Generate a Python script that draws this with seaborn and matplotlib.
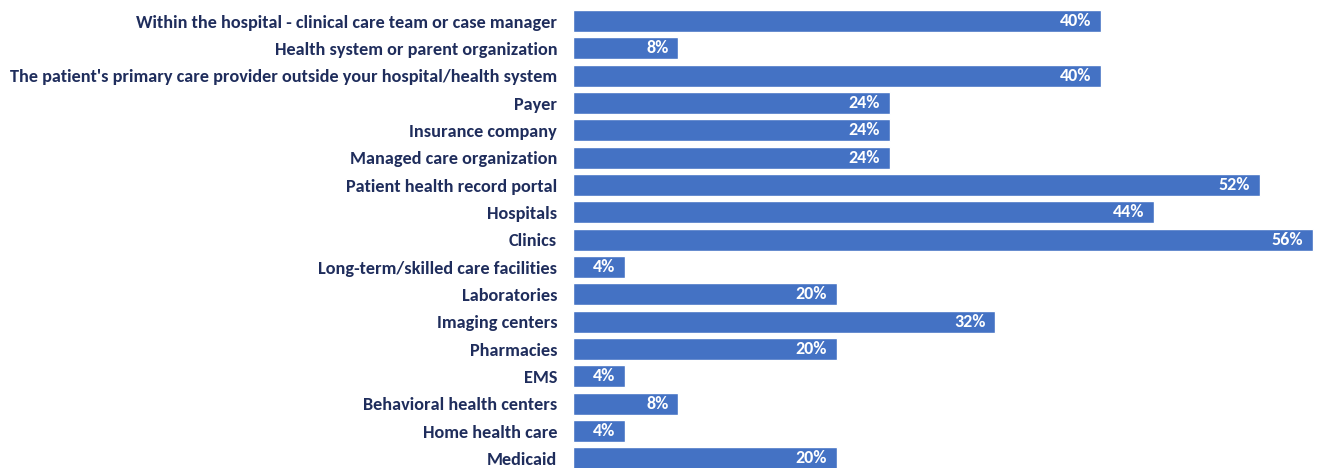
import matplotlib
matplotlib.use("Agg")
import matplotlib.pyplot as plt
from matplotlib import font_manager
import seaborn as sns
import pandas as pd

categories = [
    "Within the hospital - clinical care team or case manager",
    "Health system or parent organization",
    "The patient's primary care provider outside your hospital/health system",
    "Payer",
    "Insurance company",
    "Managed care organization",
    "Patient health record portal",
    "Hospitals",
    "Clinics",
    "Long-term/skilled care facilities",
    "Laboratories",
    "Imaging centers",
    "Pharmacies",
    "EMS",
    "Behavioral health centers",
    "Home health care",
    "Medicaid",
]
values = [40, 8, 40, 24, 24, 24, 52, 44, 56, 4, 20, 32, 20, 4, 8, 4, 20]

df = pd.DataFrame({"category": categories, "value": values})

sns.set_theme(style="white")
installed = {f.name for f in font_manager.fontManager.ttflist}
preferred = ["Carlito", "Liberation Sans Narrow", "Roboto Condensed",
             "Open Sans Condensed", "Noto Sans Condensed", "Roboto", "Lato"]
family = next((f for f in preferred if f in installed), "DejaVu Sans")
plt.rcParams["font.family"] = [family, "DejaVu Sans"]

W, H = 1321, 468
fig = plt.figure(figsize=(W / 100, H / 100), dpi=100)
x0 = 572.5
ax = fig.add_axes([x0 / W, 0, 1 - x0 / W, 1])

bar_color = "#4472C4"
text_color = "#1F2D5C"

sns.barplot(data=df, x="value", y="category", orient="h", color=bar_color,
            saturation=1, width=0.8, ax=ax)

px_per_unit = (1312.5 - x0) / 56
ax.set_xlim(0, (W - x0) / px_per_unit)
ax.set_ylim(16.35, -0.77)

# label size: fit the longest category into the space left of the bars
renderer = fig.canvas.get_renderer()
probe = fig.text(0, 0, max(categories, key=len), fontsize=10, fontweight="bold")
w10 = probe.get_window_extent(renderer).width
probe.remove()
label_size = min(14, 10 * 549 / w10)

for i, v in enumerate(values):
    ax.annotate(f"{v}%", xy=(v, i), xytext=(-7, 0), textcoords="offset points",
                ha="right", va="center", color="white",
                fontsize=13, fontweight="bold")

ax.set_xlabel("")
ax.set_ylabel("")
ax.set_xticks([])
ax.tick_params(axis="y", length=0, pad=11)
for lab in ax.get_yticklabels():
    lab.set_fontsize(label_size)
    lab.set_fontweight("bold")
    lab.set_color(text_color)
for s in ax.spines.values():
    s.set_visible(False)

fig.savefig("out.png", dpi=100)
